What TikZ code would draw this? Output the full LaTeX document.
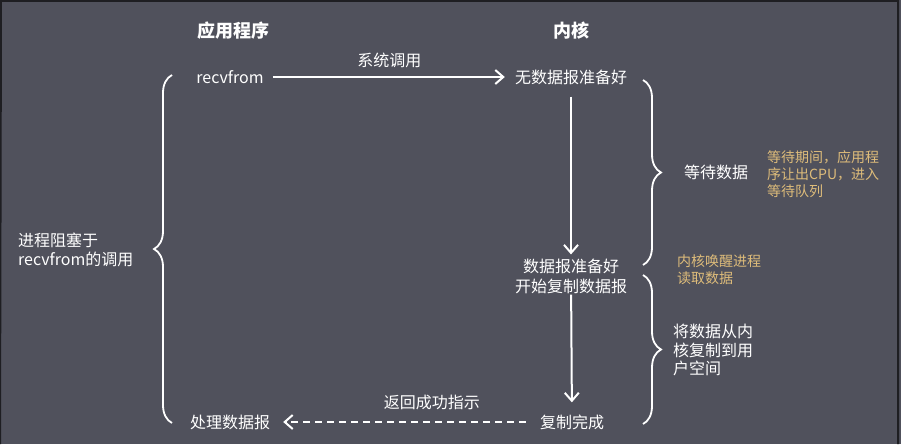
\documentclass[tikz,border=0pt]{standalone}
\usepackage{fontspec}
\setmainfont{Noto Sans CJK SC}
\usepackage{tikz}
\usetikzlibrary{arrows.meta, decorations.pathreplacing}
\definecolor{bgcol}{RGB}{80,81,92}
\definecolor{framecol}{RGB}{30,30,34}
\definecolor{notecol}{RGB}{222,188,122}
\tikzstyle{txt} = [text=white, font=\fontsize{16}{18.5}\selectfont, inner sep=0pt, align=center]
\tikzstyle{head} = [text=white, font=\fontsize{18}{22}\selectfont\bfseries, inner sep=0pt]
\tikzstyle{side} = [txt, anchor=west, align=left]
\tikzstyle{note} = [text=notecol, font=\fontsize{14}{17}\selectfont, inner sep=0pt, anchor=west, align=left]
\tikzstyle{arrow} = [white, line width=2pt, -{Straight Barb[length=8pt,width=14pt]}]
\tikzstyle{bracket} = [white, line width=1.8pt, decorate, decoration={brace, amplitude=18pt}]

\begin{document}
\begin{tikzpicture}[x=1pt, y=-1pt]
    \fill[bgcol] (0,0) rectangle (901,444);
    \useasboundingbox (0,0) rectangle (901,444);
    \draw[framecol, line width=2pt] (0,444) -- (1,1) -- (898,1) -- (898,444);

    \node (app) [head] at (233,31) {应用程序};
    \node (kern) [head] at (571,31) {内核};

    \node (recv) [txt] at (230,77) {recvfrom};
    \node (nodata) [txt] at (571,77) {无数据报准备好};
    \node (ready) [txt, font=\fontsize{16}{20}\selectfont] at (571,276) {数据报准备好\\开始复制数据报};
    \node (done) [txt] at (572,422) {复制完成};
    \node (handle) [txt] at (230,422) {处理数据报};

    \draw[arrow, shorten <=9pt, shorten >=10pt] (recv) -- node (call) [txt, above=8pt] {系统调用} (nodata);
    \draw[arrow, shorten <=12pt, shorten >=4pt] (nodata) -- (ready);
    \draw[arrow, shorten <=1pt, shorten >=12pt] (ready) -- (done);
    \draw[arrow, dash pattern=on 7pt off 5pt, shorten <=14pt, shorten >=13pt] (done) -- node (back) [txt, above=11pt, pos=0.4] {返回成功指示} (handle);

    \coordinate (lbtop) at (172,75);
    \coordinate (lbbot) at (172,423);
    \coordinate (rbtop) at (643,80);
    \coordinate (rbmid) at (643,265);
    \coordinate (rctop) at (643,275);
    \coordinate (rcbot) at (643,424);
    \draw[bracket] (lbbot) -- (lbtop);
    \draw[bracket] (rbtop) -- (rbmid);
    \draw[bracket] (rctop) -- (rcbot);

    \node (block) [side] at (18,250) {进程阻塞于\\recvfrom的调用};
    \node (wait) [txt] at (716,172) {等待数据};
    \node (waitnote) [note] at (767,174) {等待期间，应用程\\序让出CPU，进入\\等待队列};
    \node (wake) [note] at (677,270) {内核唤醒进程\\读取数据};
    \node (copy) [side] at (673,350) {将数据从内\\核复制到用\\户空间};
\end{tikzpicture}
\end{document}
